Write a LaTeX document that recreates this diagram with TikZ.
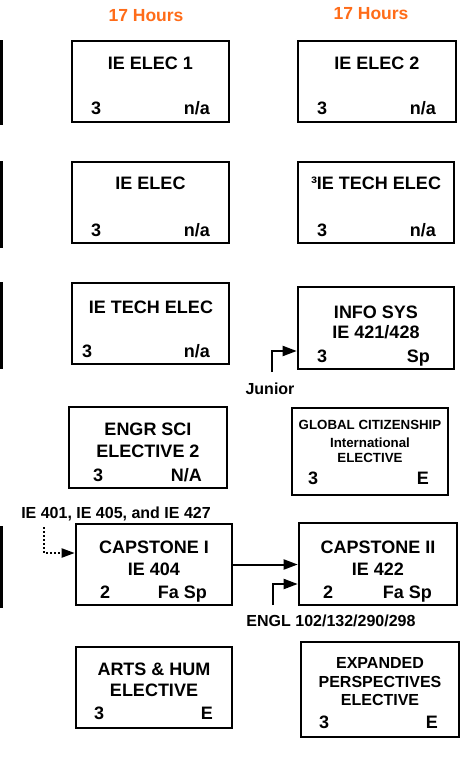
\documentclass[tikz,border=0pt]{standalone}
\usepackage{fontspec}
\setmainfont{Liberation Sans}
\usetikzlibrary{arrows.meta}
\definecolor{hrs}{RGB}{255,108,25}
\begin{document}
\begin{tikzpicture}[x=1pt,y=-1pt,
  box/.style={draw,line width=2.6pt,rectangle,inner sep=0pt},
  t/.style={inner sep=0pt,anchor=base,font=\bfseries\fontsize{18}{18}\selectfont},
  tl/.style={t,anchor=base west},
  tr/.style={t,anchor=base east},
  ts/.style={t,font=\bfseries\fontsize{13.3}{13.3}\selectfont},
  tm/.style={t,font=\bfseries\fontsize{16}{16}\selectfont},
  hrsl/.style={t,text=hrs,font=\bfseries\fontsize{17.5}{17.5}\selectfont},
  arr/.style={line width=2pt,-{Triangle[length=14pt,width=10pt]}},
  darr/.style={line width=2pt,dash pattern=on 2pt off 2pt,-{Triangle[length=13pt,width=9pt]}},
]
\useasboundingbox (0,0) rectangle (460,768);
\clip (0,0) rectangle (460,768);
\fill[white] (0,0) rectangle (460,768);

% partial boxes on the left edge
\node[box,minimum width=100pt,minimum height=83pt] (p1) at (-48.5,82.5) {};
\node[box,minimum width=100pt,minimum height=85pt] (p2) at (-48.5,204.5) {};
\node[box,minimum width=100pt,minimum height=85pt] (p3) at (-48.5,325.5) {};
\node[box,minimum width=100pt,minimum height=80pt] (p4) at (-48.5,567) {};

% headings
\node[hrsl] (h1) at (146,22) {17 Hours};
\node[hrsl] (h2) at (371,19.5) {17 Hours};

% row 1
\node[box,minimum width=157pt,minimum height=81pt] (e1) at (150.5,81.5) {};
\node[t] (e1a) at (150.5,69.5) {IE ELEC 1};
\node[tl] (e1b) at (91,114.5) {3};
\node[tr] (e1c) at (210,114.5) {n/a};

\node[box,minimum width=158pt,minimum height=81pt] (e2) at (377,81.5) {};
\node[t] (e2a) at (377,69.5) {IE ELEC 2};
\node[tl] (e2b) at (317,114.5) {3};
\node[tr] (e2c) at (436,114.5) {n/a};

% row 2
\node[box,minimum width=157pt,minimum height=81pt] (e3) at (150.5,202.5) {};
\node[t] (e3a) at (150.5,189.5) {IE ELEC};
\node[tl] (e3b) at (91,236.5) {3};
\node[tr] (e3c) at (210,236.5) {n/a};

\node[box,minimum width=156pt,minimum height=81pt] (e4) at (376,202.5) {};
\node[t] (e4a) at (376,189.5) {³IE TECH ELEC};
\node[tl] (e4b) at (317,236.5) {3};
\node[tr] (e4c) at (436,236.5) {n/a};

% row 3
\node[box,minimum width=157pt,minimum height=81pt] (e5) at (150.5,323.5) {};
\node[t] (e5a) at (151,313.5) {IE TECH ELEC};
\node[tl] (e5b) at (82,357.5) {3};
\node[tr] (e5c) at (210,357.5) {n/a};

\node[box,minimum width=156pt,minimum height=82pt] (info) at (376,328) {};
\node[t] (infoa) at (376,318.5) {INFO SYS};
\node[t] (infob) at (376,338.5) {IE 421/428};
\node[tl] (infoc) at (317,362.5) {3};
\node[tr] (infod) at (430,362.5) {Sp};

\node[tm] (jr) at (270,394) {Junior};
\coordinate (jrs) at (272,372);
\draw[arr] (jrs) |- ([yshift=-23pt]info.west);

% row 4
\node[box,minimum width=158pt,minimum height=81pt] (engr) at (148,447.5) {};
\node[t] (engra) at (148,435.5) {ENGR SCI};
\node[t] (engrb) at (148,457.5) {ELECTIVE 2};
\node[tl] (engrc) at (93,481.5) {3};
\node[tr] (engrd) at (202,481.5) {N/A};

\node[box,minimum width=156pt,minimum height=87pt] (glob) at (370,451.5) {};
\node[ts] (globa) at (370,429.8) {GLOBAL CITIZENSHIP};
\node[ts] (globb) at (370,447.8) {International};
\node[ts] (globc) at (370,462.8) {ELECTIVE};
\node[tl] (globd) at (308,484.5) {3};
\node[tr] (globe) at (429,484.5) {E};

% row 5
\node[tm] (pre1) at (116,518) {IE 401, IE 405, and IE 427};
\node[box,minimum width=156pt,minimum height=81pt] (cap1) at (154,564.5) {};
\node[t] (cap1a) at (154,553.5) {CAPSTONE I};
\node[t] (cap1b) at (154,575.5) {IE 404};
\node[tl] (cap1c) at (100,598.5) {2};
\node[tr] (cap1d) at (207,598.5) {Fa Sp};

\node[box,minimum width=158pt,minimum height=82pt] (cap2) at (378,564) {};
\node[t] (cap2a) at (378,553.5) {CAPSTONE II};
\node[t] (cap2b) at (378,575.5) {IE 422};
\node[tl] (cap2c) at (323,598.5) {2};
\node[tr] (cap2d) at (432,598.5) {Fa Sp};

\coordinate (pre1s) at (44,527);
\draw[darr] (pre1s) |- ([yshift=11.5pt]cap1.west);
\draw[arr] (cap1.east) -- (cap1.east -| cap2.west);

\node[tm] (engl) at (331,626) {ENGL 102/132/290/298};
\coordinate (engls) at (273,605);
\draw[arr] (engls) |- ([yshift=-20pt]cap2.west);

% row 6
\node[box,minimum width=156pt,minimum height=81pt] (arts) at (154,687.5) {};
\node[t] (artsa) at (154,675.5) {ARTS \& HUM};
\node[t] (artsb) at (154,696.5) {ELECTIVE};
\node[tl] (artsc) at (94,719.5) {3};
\node[tr] (artsd) at (213,719.5) {E};

\node[box,minimum width=158pt,minimum height=95pt] (exp) at (380,689.5) {};
\node[tm] (expa) at (380,668.7) {EXPANDED};
\node[tm] (expb) at (380,687.7) {PERSPECTIVES};
\node[tm] (expc) at (380,705.7) {ELECTIVE};
\node[tl] (expd) at (319,728.5) {3};
\node[tr] (expe) at (438,728.5) {E};
\end{tikzpicture}
\end{document}
